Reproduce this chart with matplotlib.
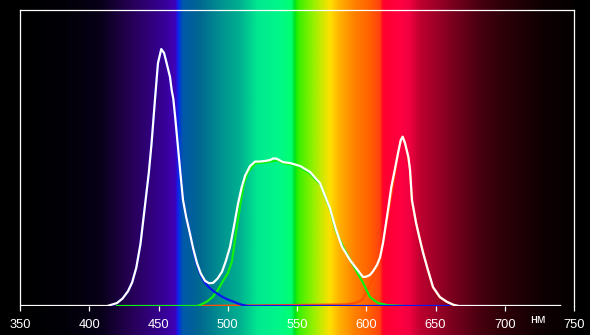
import numpy as np
import matplotlib
matplotlib.use("Agg")
import matplotlib.pyplot as plt
from matplotlib.colors import to_rgb

# wavelength ticks (nm)
ticks = [350, 400, 450, 500, 550, 600, 650, 700, 750]

# total spectrum (white)
total_nm = [350, 413, 420, 424, 428, 431, 434, 437, 440, 443, 445, 447.5, 449.6, 452, 454,
            455.9, 458.3, 459.5, 460.7, 462, 464, 466, 467.7, 470, 472.7, 475, 477.8, 480.5,
            483.6, 486.5, 489.4, 492.5, 495.8, 498.5, 501.6, 504.5, 507.4, 510, 512.5, 516,
            519.7, 523, 527, 530.5, 533, 535.6, 539.9, 545, 552.2, 559.4, 566.6, 573.8, 578,
            582.5, 588.3, 595.5, 597.7, 600, 602.7, 605, 607.8, 610, 612.1, 615.7, 618, 620.8,
            623.1, 624.9, 626.3, 628, 630.4, 631.6, 633, 636, 638.8, 641, 643.9, 648.2, 653.2,
            658.3, 663, 667, 740]
total_val = [0, 0, 0.01, 0.025, 0.05, 0.08, 0.13, 0.21, 0.33, 0.45, 0.55, 0.70, 0.82, 0.868, 0.855,
             0.82, 0.774, 0.73, 0.70, 0.64, 0.54, 0.44, 0.358, 0.30, 0.245, 0.195, 0.145, 0.11,
             0.085, 0.077, 0.078, 0.092, 0.115, 0.15, 0.199, 0.27, 0.345, 0.40, 0.44, 0.472,
             0.488, 0.488, 0.49, 0.493, 0.499, 0.497, 0.486, 0.483, 0.473, 0.453, 0.415, 0.33, 0.26,
             0.2, 0.155, 0.111, 0.098, 0.099, 0.105, 0.118, 0.139, 0.165, 0.213, 0.324, 0.40, 0.465,
             0.52, 0.56, 0.572, 0.55, 0.504, 0.46, 0.358, 0.28, 0.223, 0.18, 0.132, 0.064, 0.03,
             0.014, 0.004, 0, 0]

# blue component
blue_nm = [415, 420, 424, 428, 431, 434, 437, 440, 443, 445, 447.5, 449.6, 452, 454, 455.9,
           458.3, 459.5, 460.7, 462, 464, 466, 467.7, 470, 472.7, 475, 477.8, 480, 483, 486,
           489, 492, 495, 498, 501, 504, 507, 511, 515, 660]
blue_val = [0, 0.01, 0.025, 0.05, 0.08, 0.13, 0.21, 0.33, 0.45, 0.55, 0.70, 0.82, 0.868, 0.855, 0.82,
            0.774, 0.73, 0.70, 0.64, 0.54, 0.44, 0.358, 0.30, 0.245, 0.19, 0.14, 0.11, 0.082, 0.065,
            0.053, 0.043, 0.034, 0.026, 0.02, 0.015, 0.009, 0.003, 0, 0]

# green component
green_nm = [420, 478, 480, 485, 489, 493, 496, 500, 503, 506, 509, 512, 515, 520, 527, 531, 536,
            540, 545, 552, 559, 567, 574, 578, 583.2, 590.4, 597.7, 602.7, 608.5, 615, 627]
green_val = [0, 0, 0.003, 0.015, 0.03, 0.055, 0.08, 0.11, 0.15, 0.25, 0.34, 0.42, 0.455, 0.482, 0.485,
             0.488, 0.492, 0.482, 0.479, 0.469, 0.449, 0.41, 0.325, 0.255, 0.2, 0.139, 0.078, 0.03,
             0.01, 0.003, 0]

# red component
red_nm = [478, 585, 592, 597, 600, 603, 606, 608, 612, 616, 621, 623, 625, 626.3, 628, 630.4,
          631.6, 633, 636, 639, 644, 648, 653, 658, 665]
red_val = [0, 0.005, 0.01, 0.02, 0.045, 0.075, 0.11, 0.13, 0.21, 0.32, 0.46, 0.52, 0.56, 0.572, 0.55,
           0.5, 0.455, 0.355, 0.28, 0.22, 0.13, 0.064, 0.03, 0.014, 0]

# spectrum backdrop colour stops
bg_nm = [350, 384, 408, 432, 455, 462, 464, 465.5, 467.7, 480, 494.4, 508.8, 521.8, 537.7, 546,
         548.5, 550, 552, 563, 573.8, 581, 591.9, 602.7, 610, 611.5, 613, 624.4, 631.6, 638.8,
         660.5, 682, 696.6, 725.4, 750]
bg_col = ["#000000", "#020008", "#080018", "#28005a", "#38009a", "#4000b8", "#1020f0", "#0040d0",
          "#0058a8", "#006890", "#009090", "#00b090", "#00e890", "#00f888", "#00ff70",
          "#00e020", "#20f000", "#40f000", "#a0f000", "#ffe000", "#ffb000", "#ff8000", "#ff6000",
          "#ff4010", "#ff1020", "#ff0030", "#ff0040", "#f00040", "#c00030",
          "#800020", "#480010", "#300008", "#100003", "#040000"]

W, H = 590, 335
fig = plt.figure(figsize=(W / 100, H / 100), dpi=100, facecolor="black")

left = 20 / W
width = 554 / W
bottom = (H - 306) / H
height = 296 / H

# gradient behind everything, full height
ax_bg = fig.add_axes([left, 0, width, 1])
grid = np.linspace(350, 750, 1200)
rgb = np.array([to_rgb(c) for c in bg_col])
img = np.stack([np.interp(grid, bg_nm, rgb[:, k]) for k in range(3)], axis=-1)[None, :, :]
ax_bg.imshow(img, extent=[350, 750, 0, 1], aspect="auto", interpolation="bilinear")
ax_bg.set_axis_off()

ax = fig.add_axes([left, bottom, width, height])
ax.patch.set_alpha(0)
ax.set_xlim(350, 750)
ax.set_ylim(0, 1)

ax.plot(red_nm, red_val, color="#ff5000", lw=1.6, zorder=2)
ax.plot(green_nm, green_val, color="#10f010", lw=1.6, zorder=3)
ax.plot(blue_nm, blue_val, color="#0818f0", lw=1.6, zorder=4)
ax.plot(total_nm, total_val, color="white", lw=1.6, zorder=5)

for s in ["top", "left", "right"]:
    ax.spines[s].set_color("white")
    ax.spines[s].set_linewidth(0.9)
ax.spines["bottom"].set_visible(False)

ax.set_xticks(ticks)
ax.set_yticks([])
ax.tick_params(axis="x", colors="white", length=3.6, width=0.9, pad=6,
               labelsize=9.3, direction="out")
for lab in ax.get_xticklabels():
    lab.set_fontfamily("Liberation Sans")

fig.text(537.5 / W, 1 - 323 / H, "нм", color="white", fontsize=9,
         family="Liberation Sans", ha="center", va="baseline")

fig.savefig("out.png", dpi=100, facecolor="black")
